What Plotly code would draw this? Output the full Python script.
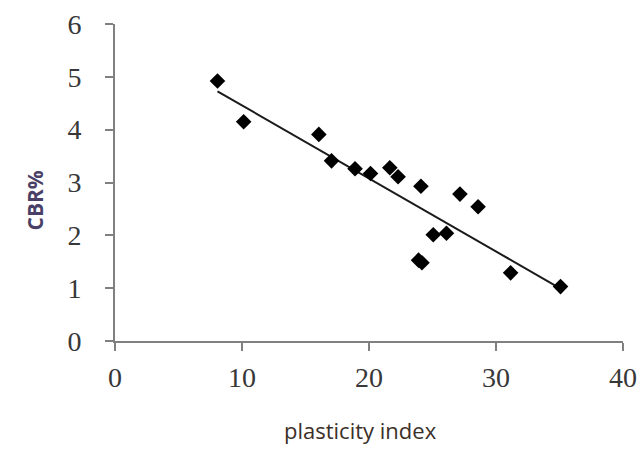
import numpy as np
import plotly.graph_objects as go

plasticity_index = [8.07, 10.13, 16.05, 17.05, 18.9, 20.12, 21.64, 22.29, 24.09, 27.16, 28.59, 25.06, 26.1, 23.9, 24.17, 31.15, 35.08]
cbr = [4.92, 4.15, 3.91, 3.41, 3.26, 3.17, 3.28, 3.11, 2.93, 2.78, 2.54, 2.01, 2.04, 1.53, 1.48, 1.29, 1.03]
x_ticks = [0, 10, 20, 30, 40]
y_ticks = [0, 1, 2, 3, 4, 5, 6]

slope, intercept = np.polyfit(plasticity_index, cbr, 1)
fit_x = [min(plasticity_index), max(plasticity_index)]
fit_y = [slope * v + intercept for v in fit_x]

fig = go.Figure()
fig.add_trace(go.Scatter(x=fit_x, y=fit_y, mode="lines",
                         line=dict(color="#1a1a1a", width=2), showlegend=False, hoverinfo="skip"))
fig.add_trace(go.Scatter(x=plasticity_index, y=cbr, mode="markers",
                         marker=dict(symbol="diamond", size=12, color="black"), showlegend=False))

tickfont = dict(family="Liberation Serif", size=28, color="#383838")
L, R, T, B = 115, 20, 24, 118
fig.update_layout(
    width=643, height=459,
    margin=dict(l=L, r=R, t=T, b=B, autoexpand=False),
    plot_bgcolor="white", paper_bgcolor="white",
    xaxis=dict(range=[0, 40], tickvals=x_ticks, showgrid=False, zeroline=False,
               showline=True, linecolor="#808080", linewidth=2, automargin=False,
               ticks="outside", ticklen=8, tickwidth=2, tickcolor="#808080",
               tickfont=tickfont, ticklabelstandoff=2),
    yaxis=dict(range=[0, 6], tickvals=y_ticks, showgrid=False, zeroline=False,
               showline=True, linecolor="#808080", linewidth=2, automargin=False,
               ticks="outside", ticklen=8, tickwidth=2, tickcolor="#808080",
               tickfont=tickfont, ticklabelstandoff=18),
    annotations=[
        dict(text="<b>CBR%</b>", x=18.5, y=201, xref="paper", yref="paper", showarrow=False,
             textangle=-90, font=dict(family="Open Sans", size=21, color="#4a3f66")),
        dict(text="plasticity index", x=360, y=447, xref="paper", yref="paper", showarrow=False,
             font=dict(family="Open Sans", size=22, color="#3a3028")),
    ],
)
# convert pixel positions of annotations to paper coordinates
pw, ph = 643 - L - R, 459 - T - B
for a in fig.layout.annotations:
    a.x = (a.x - L) / pw
    a.y = (459 - B - a.y) / ph
fig.write_html("out.html")
